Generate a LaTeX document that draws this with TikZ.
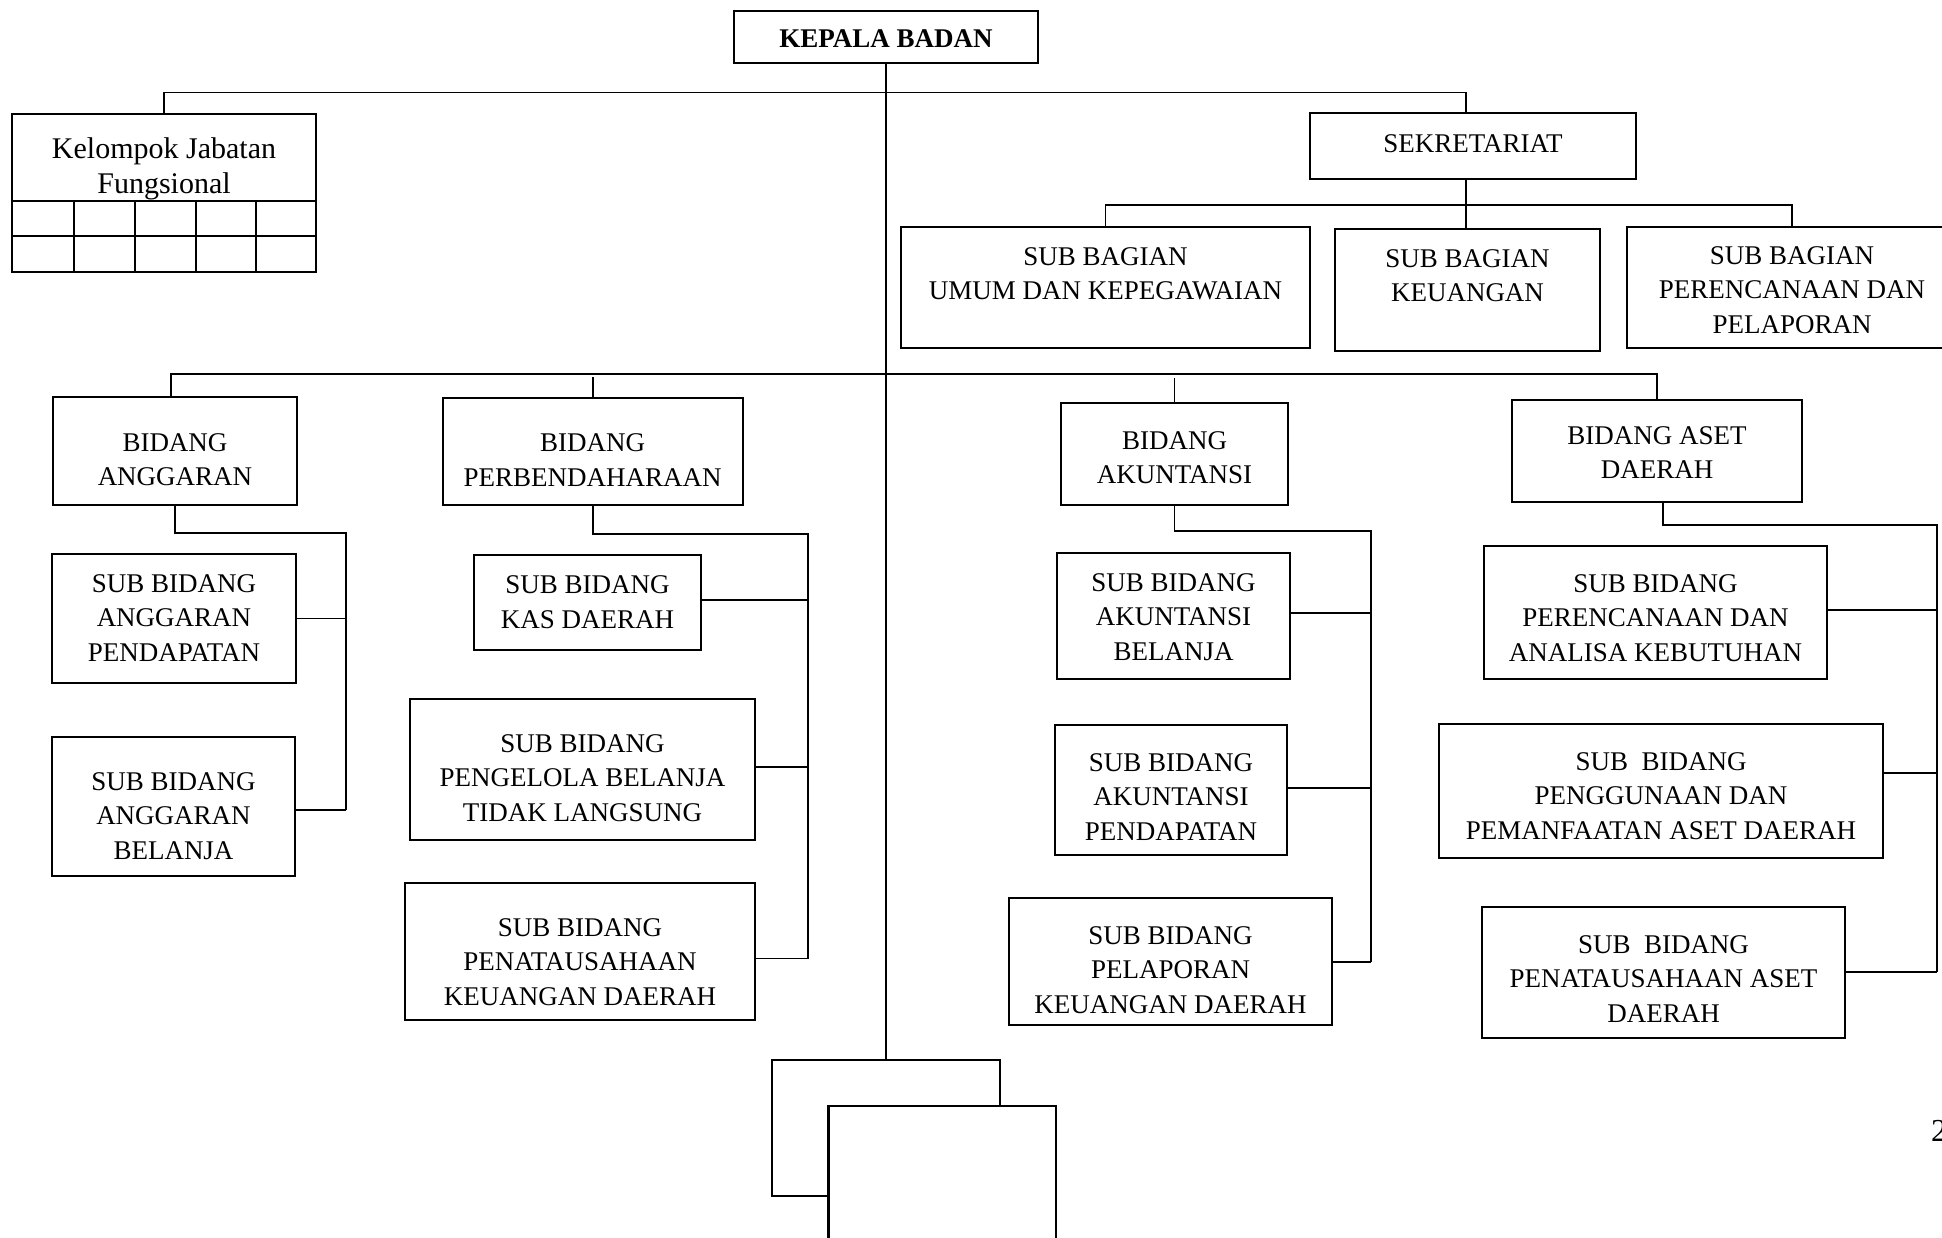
\documentclass[tikz,border=0pt]{standalone}
\usepackage{fontspec}
\setmainfont{Liberation Serif}
\newcommand{\orgbox}[7]{%
  \node[box, minimum width=#4pt, minimum height=#5pt] (#1) at (#2,#3) {};
  \node[txt] (#1-t) at (#2,#6) {#7};}
\begin{document}
\begin{tikzpicture}[x=1pt,y=-1pt,
  box/.style={draw,line width=2.2pt,inner sep=0pt,outer sep=0pt,fill=white},
  txt/.style={font=\fontsize{27}{34.5}\selectfont,align=center,inner sep=0pt},
  conn/.style={line width=1.9pt},
  spine/.style={line width=1.4pt},
  grid/.style={line width=2pt}]
\useasboundingbox (0,0) rectangle (1942,1238);
\clip (0,0) rectangle (1942,1238);

% spine x positions
\coordinate (sekx) at (1466,0);
\coordinate (topbus) at (0,92.5);
\coordinate (sekbus) at (0,205);
\coordinate (bidbus) at (0,374);

% head
\node[box, minimum width=304pt, minimum height=52pt] (kepala) at (886,37) {};
\node[txt, font=\fontsize{27}{34.5}\selectfont\bfseries] (kepala-t) at (886,39) {KEPALA BADAN};

% Kelompok jabatan fungsional
\node[box, line width=2.6pt, minimum width=304pt, minimum height=158pt] (kel) at (164,193) {};
\node[txt, font=\fontsize{30}{35}\selectfont] (kel-t) at (164,169) {Kelompok Jabatan\\Fungsional};
\draw[grid] (12,201) -- (316,201);
\draw[grid] (12,236) -- (316,236);
\foreach \x in {74,135,196,256} \draw[grid] (\x,201) -- (\x,272);

% Sekretariat
\orgbox{sek}{1473}{146}{326}{66}{144}{SEKRETARIAT}
\orgbox{sbu}{1105.5}{287.5}{409}{121}{274}{SUB BAGIAN\\UMUM DAN KEPEGAWAIAN}
\orgbox{sbk}{1467.5}{290}{265}{122}{275.5}{SUB BAGIAN\\KEUANGAN}
\orgbox{sbp}{1792}{287.5}{330}{121}{290}{SUB BAGIAN\\PERENCANAAN DAN\\PELAPORAN}

% Bidang
\orgbox{bang}{175}{451}{244}{108}{459.5}{BIDANG\\ANGGARAN}
\orgbox{bper}{592.7}{451.5}{300}{107}{460}{BIDANG\\PERBENDAHARAAN}
\orgbox{bak}{1174.5}{454}{227}{102}{457.5}{BIDANG\\AKUNTANSI}
\orgbox{bas}{1657}{451}{290}{102}{452.5}{BIDANG ASET\\DAERAH}

% Sub bidang anggaran
\orgbox{sap}{174}{618.5}{244}{129}{618}{SUB BIDANG\\ANGGARAN\\PENDAPATAN}
\orgbox{sab}{173.5}{806.5}{243}{139}{816}{SUB BIDANG\\ANGGARAN\\BELANJA}

% Sub bidang perbendaharaan
\orgbox{skd}{587.5}{602.5}{227}{95}{602}{SUB BIDANG\\KAS DAERAH}
\orgbox{spb}{582.5}{769.5}{345}{141}{778}{SUB BIDANG\\PENGELOLA BELANJA\\TIDAK LANGSUNG}
\orgbox{spk}{580}{951.5}{349.5}{137}{962}{SUB BIDANG\\PENATAUSAHAAN\\KEUANGAN DAERAH}

% Sub bidang akuntansi
\orgbox{sakb}{1173.5}{616}{233}{126}{616.8}{SUB BIDANG\\AKUNTANSI\\BELANJA}
\orgbox{sakp}{1171}{790}{232}{130}{797}{SUB BIDANG\\AKUNTANSI\\PENDAPATAN}
\orgbox{splk}{1170.5}{961.5}{323}{127}{970}{SUB BIDANG\\PELAPORAN\\KEUANGAN DAERAH}

% Sub bidang aset
\orgbox{spak}{1655.5}{612.5}{343}{133}{618}{SUB BIDANG\\PERENCANAAN DAN\\ANALISA KEBUTUHAN}
\orgbox{spg}{1661}{791}{444}{134}{796}{SUB\ \ BIDANG\\PENGGUNAAN DAN\\PEMANFAATAN ASET DAERAH}
\orgbox{spas}{1663.5}{972.5}{363}{131}{979}{SUB\ \ BIDANG\\PENATAUSAHAAN ASET\\DAERAH}

% bottom empty boxes
\node[box, minimum width=228pt, minimum height=136pt] (back) at (886,1128) {};
\node[box, minimum width=227.5pt, minimum height=160pt] (front) at (942.25,1186) {};

% page number (cut off)
\node[font=\fontsize{32}{38}\selectfont, anchor=west, inner sep=0pt] (pg) at (1931,1131) {2};

% ---- connectors ----
\draw[spine] (kepala.south) -- (back.north);
\draw[conn] (kel.north) |- (sekx |- topbus) -- (sek.north -| sekx);
\draw[conn] (sek.south -| sekx) -- (sbk.north -| sekx);
\draw[conn] (sbu.north) |- (sbp.north |- sekbus) -- (sbp.north);

\draw[conn] (bang.north -| 171,0) |- (bas.north |- bidbus) -- (bas.north);
\draw[conn] (bper.north |- 0,377) -- (bper.north);
\draw[conn] (bak.north |- 0,378) -- (bak.north);

% anggaran column
\coordinate (angx) at (346,0);
\draw[conn] (bang.south) |- (angx |- 0,533) -- (angx |- 0,810);
\draw[conn] (sap.east) -- (sap.east -| angx);
\draw[conn] (sab.east |- 0,810) -- (angx |- 0,810);

% perbendaharaan column
\coordinate (perx) at (808,0);
\draw[conn] (bper.south) |- (perx |- 0,534) -- (perx |- 0,958.5);
\draw[conn] (skd.east |- 0,600) -- (perx |- 0,600);
\draw[conn] (spb.east |- 0,767) -- (perx |- 0,767);
\draw[conn] (spk.east |- 0,958.5) -- (perx |- 0,958.5);

% akuntansi column
\coordinate (akx) at (1371,0);
\draw[conn] (bak.south) |- (akx |- 0,531) -- (akx |- 0,962);
\draw[conn] (sakb.east |- 0,613) -- (akx |- 0,613);
\draw[conn] (sakp.east |- 0,788) -- (akx |- 0,788);
\draw[conn] (splk.east |- 0,962) -- (akx |- 0,962);

% aset column
\coordinate (asx) at (1937,0);
\draw[conn] (bas.south -| 1663,0) |- (asx |- 0,525) -- (asx |- 0,972);
\draw[conn] (spak.east |- 0,610) -- (asx |- 0,610);
\draw[conn] (spg.east |- 0,773) -- (asx |- 0,773);
\draw[conn] (spas.east |- 0,972) -- (asx |- 0,972);
\end{tikzpicture}
\end{document}
